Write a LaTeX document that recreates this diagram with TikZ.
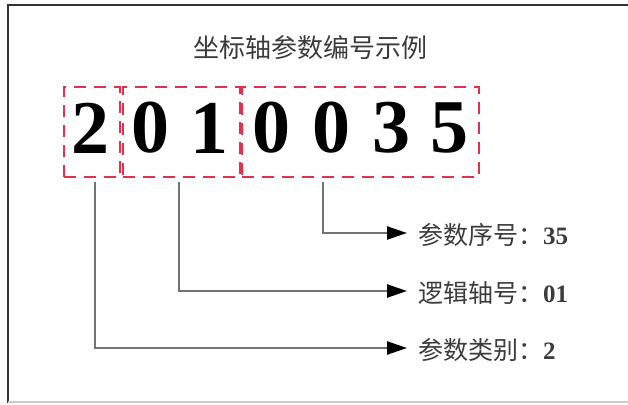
\documentclass[tikz,border=0pt]{standalone}
\usepackage{fontspec}
\setmainfont{Liberation Serif}
\newfontfamily\cjk{Noto Sans CJK SC}
\usetikzlibrary{arrows.meta}
\definecolor{boxred}{RGB}{226,48,78}
\definecolor{linegray}{RGB}{115,115,115}
\definecolor{txtgray}{RGB}{60,60,60}
\tikzset{
  dbox/.style={draw=boxred, line width=2.4pt, dash pattern=on 12pt off 8pt, inner sep=0pt},
  digit/.style={font=\fontsize{76}{76}\selectfont\bfseries, inner sep=0pt},
  lbl/.style={font=\fontsize{25}{25}\selectfont, text=txtgray, inner sep=0pt, anchor=west},
  conn/.style={draw=linegray, line width=2.4pt, -{Triangle[length=20pt,width=13pt,color=black]}},
}
\begin{document}
\begin{tikzpicture}[x=1pt,y=-1pt]
\useasboundingbox (0,0) rectangle (628,404);
\fill[white] (0,0) rectangle (628,404);
% frame
\draw[line width=2.4pt, black!80] (8,403) -- (8,5) -- (628,5);
\draw[line width=1.5pt, black!20] (8,402) -- (628,402);
% title
\node[font=\cjk\fontsize{26}{26}\selectfont, text=txtgray] (title) at (310,48) {坐标轴参数编号示例};
% boxes
\node[dbox, minimum width=56pt, minimum height=90pt] (b1) at (92,132) {};
\node[dbox, minimum width=117pt, minimum height=90pt] (b2) at (181.5,132) {};
\node[dbox, minimum width=237pt, minimum height=90pt] (b3) at (360.5,132) {};
% digits
\node[digit] (d1) at (90,128) {2};
\node[digit] (d2) at (150,128) {0};
\node[digit] (d3) at (209,128) {1};
\node[digit] (d4) at (271,128) {0};
\node[digit] (d5) at (331,128) {0};
\node[digit] (d6) at (391,128) {3};
\node[digit] (d7) at (449,128) {5};
% labels
\node[lbl] (l1) at (418,235) {{\cjk 参数序号：}\textbf{35}};
\node[lbl] (l2) at (418,293) {{\cjk 逻辑轴号：}\textbf{01}};
\node[lbl] (l3) at (418,350) {{\cjk 参数类别：}\textbf{2}};
% connector starts
\coordinate (s1) at (323,182);
\coordinate (s2) at (179,182);
\coordinate (s3) at (95,182);
\coordinate (e1) at (407,233);
\coordinate (e2) at (407,291);
\coordinate (e3) at (407,348);
\draw[conn] (s1) |- (e1);
\draw[conn] (s2) |- (e2);
\draw[conn] (s3) |- (e3);
\end{tikzpicture}
\end{document}
